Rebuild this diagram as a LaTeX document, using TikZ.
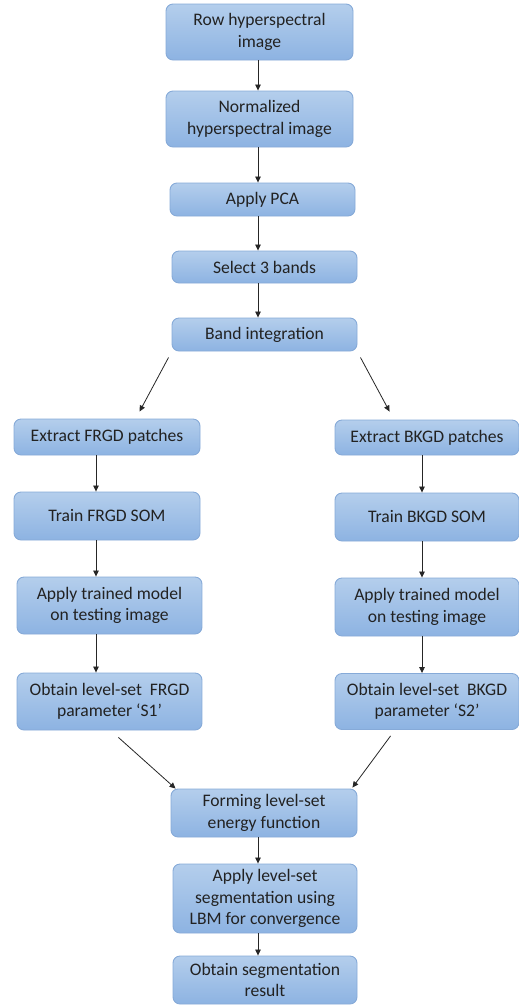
\documentclass[tikz,border=0pt]{standalone}
\usepackage{fontspec}
\setmainfont{Carlito}
\usetikzlibrary{arrows.meta}
\definecolor{boxtop}{HTML}{B4CEEC}
\definecolor{boxbot}{HTML}{8DB3E2}
\definecolor{boxline}{HTML}{86AAD8}
\definecolor{txt}{HTML}{222222}
\tikzset{
  stepbox/.style={draw=boxline, line width=0.9pt, rounded corners=7pt,
    top color=boxtop, bottom color=boxbot, text=txt, align=center,
    inner sep=0pt, font=\fontsize{17.6}{21.5}\selectfont},
  flow/.style={draw=black!85, line width=0.8pt,
    -{Triangle[length=6pt,width=5.5pt]}}
}
\newcommand{\bx}[6]{\node[stepbox, minimum width=#4pt, minimum height=#5pt] (#1) at (#2,#3) {#6};}
\begin{document}
\begin{tikzpicture}[x=1pt,y=-1pt]
\useasboundingbox (0,0) rectangle (519,1005);
% main column
\bx{r1}{259.5}{32}{187}{56}{Row hyperspectral\\image}
\bx{r2}{259.5}{119}{187}{56}{Normalized\\hyperspectral image}
\bx{r3}{262.5}{199.5}{185}{33}{Apply PCA}
\bx{r4}{264.5}{267}{185}{32}{Select 3 bands}
\bx{r5}{264.5}{334.5}{185}{33}{Band integration}
% foreground branch
\bx{l1}{107}{437}{186}{36}{Extract FRGD patches}
\bx{l2}{107}{516}{186}{48}{Train FRGD SOM}
\bx{l3}{109.5}{605.5}{185}{57}{Apply trained model\\on testing image}
\bx{l4}{109.5}{701.5}{185}{57}{Obtain level-set\ \ FRGD\\parameter `S1'}
% background branch
\bx{b1}{427}{437.5}{184}{35}{Extract BKGD patches}
\bx{b2}{427}{517}{184}{48}{Train BKGD SOM}
\bx{b3}{427}{607}{184}{58}{Apply trained model\\on testing image}
\bx{b4}{427}{701.5}{184}{56}{Obtain level-set\ \ BKGD\\parameter `S2'}
% merged tail
\bx{f1}{264}{813}{186}{48}{Forming level-set\\energy function}
\bx{f2}{265}{898.5}{184}{69}{Apply level-set\\segmentation using\\LBM for convergence}
\bx{f3}{265}{980}{184}{48}{Obtain segmentation\\result}
% vertical connectors
\foreach \a/\b in {r1/r2,r2/r3,r3/r4,r4/r5,f1/f2,f2/f3}
  \draw[flow] (\a.south -| 258,0) -- (\b.north -| 258,0);
\foreach \a/\b in {l1/l2,l2/l3,l3/l4}
  \draw[flow] (\a.south -| 96,0) -- (\b.north -| 96,0);
\foreach \a/\b in {b1/b2,b2/b3,b3/b4}
  \draw[flow] (\a.south -| 422,0) -- (\b.north -| 422,0);
% diagonal connectors
\draw[flow] ([shift={(-3,6)}]r5.south west) -- ([shift={(126,-7)}]l1.north west);
\draw[flow] ([shift={(3,6)}]r5.south east) -- ([shift={(55,-8)}]b1.north west);
\draw[flow] ([shift={(-84,7)}]l4.south east) -- ([shift={(5,0)}]f1.north west);
\draw[flow] ([shift={(56,6)}]b4.south west) -- ([shift={(-5,-1)}]f1.north east);
\end{tikzpicture}
\end{document}
